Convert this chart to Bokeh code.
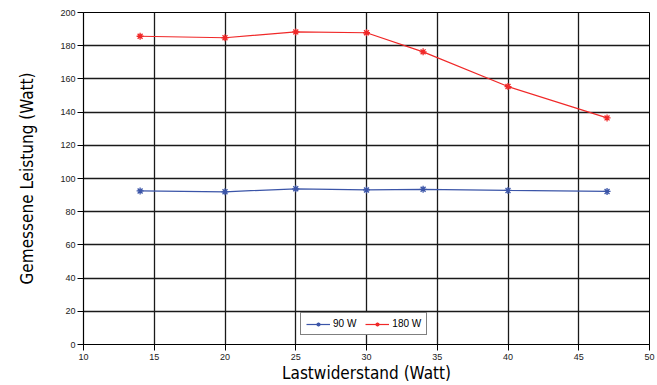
from bokeh.plotting import figure
from bokeh.models import Range1d, Legend, LegendItem, FixedTicker
from bokeh.embed import file_html
from bokeh.resources import INLINE

# Data
last_watt = [14, 20, 25, 30, 34, 40, 47]
p_90w = [92.5, 92.0, 93.8, 93.1, 93.5, 92.8, 92.2]
p_180w = [185.7, 184.8, 188.3, 187.8, 176.3, 155.4, 136.5]
x_ticks = [10, 15, 20, 25, 30, 35, 40, 45, 50]
y_ticks = [0, 20, 40, 60, 80, 100, 120, 140, 160, 180, 200]

BLUE = "#3b55a8"
RED = "#f02828"

p = figure(width=657, height=385, output_backend="svg", toolbar_location=None,
           x_range=Range1d(10, 50), y_range=Range1d(0, 200),
           min_border_left=83, min_border_right=8, min_border_top=12, min_border_bottom=37)

p.outline_line_color = "black"
p.outline_line_width = 1
p.background_fill_color = "white"
p.border_fill_color = "white"

p.xgrid.grid_line_color = "#1a1a1a"
p.ygrid.grid_line_color = "#1a1a1a"
p.xgrid.grid_line_width = 1.3
p.ygrid.grid_line_width = 1.3

p.xaxis.ticker = FixedTicker(ticks=x_ticks)
p.yaxis.ticker = FixedTicker(ticks=y_ticks)
for ax in (p.xaxis, p.yaxis):
    ax.axis_line_color = "black"
    ax.axis_line_width = 1.2
    ax.major_tick_line_color = "black"
    ax.major_tick_out = 6
    ax.major_tick_in = 0
    ax.minor_tick_line_color = None
    ax.major_label_text_font = "Liberation Sans"
    ax.major_label_text_font_size = "9px"
    ax.major_label_text_color = "#222222"
    ax.axis_label_text_font = "DejaVu Sans Condensed"
    ax.axis_label_text_font_size = "17px"
    ax.axis_label_text_font_style = "normal"
    ax.axis_label_text_color = "black"

p.xaxis.axis_label = "Lastwiderstand (Watt)"
p.yaxis.axis_label = "Gemessene Leistung (Watt)"
p.xaxis.major_label_standoff = 3
p.xaxis.axis_label_standoff = 0
p.yaxis.major_label_standoff = 2
p.yaxis.axis_label_standoff = 20

l1 = p.line(last_watt, p_90w, line_color=BLUE, line_width=1.2)
m1 = p.scatter(last_watt, p_90w, marker="asterisk", size=7, line_color=BLUE, line_width=1.3)
l2 = p.line(last_watt, p_180w, line_color=RED, line_width=1.2)
m2 = p.scatter(last_watt, p_180w, marker="asterisk", size=7, line_color=RED, line_width=1.3)

legend = Legend(items=[LegendItem(label="90 W", renderers=[l1, m1]),
                       LegendItem(label="180 W", renderers=[l2, m2])],
                orientation="horizontal", location=(217, 9))
legend.border_line_color = "black"
legend.border_line_width = 1
legend.background_fill_color = "white"
legend.background_fill_alpha = 1
legend.label_text_font = "Liberation Sans"
legend.label_text_font_size = "10px"
legend.label_text_color = "black"
legend.glyph_width = 24
legend.glyph_height = 10
legend.label_standoff = 3
legend.spacing = 9
legend.padding = 5
legend.margin = 0
legend.label_height = 10
p.add_layout(legend, "center")

open("out.html", "w").write(file_html(p, INLINE))
